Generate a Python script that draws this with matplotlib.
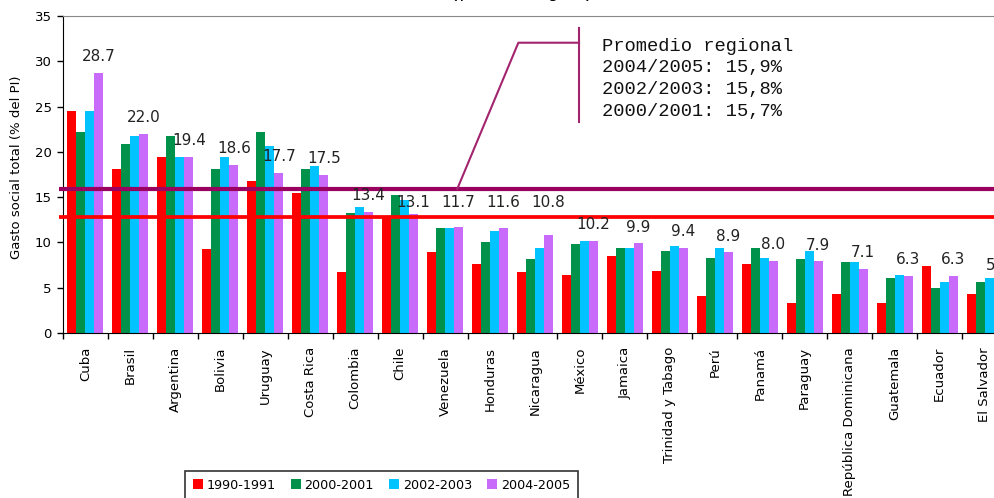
import matplotlib
matplotlib.use('Agg')
import matplotlib.pyplot as plt
import numpy as np

# datos del grafico
paises = ['Cuba', 'Brasil', 'Argentina', 'Bolivia', 'Uruguay', 'Costa Rica',
          'Colombia', 'Chile', 'Venezuela', 'Honduras', 'Nicaragua', 'México',
          'Jamaica', 'Trinidad y Tabago', 'Perú', 'Panamá', 'Paraguay',
          'República Dominicana', 'Guatemala', 'Ecuador', 'El Salvador']
g1990 = [24.5, 18.1, 19.4, 9.3, 16.8, 15.5, 6.7, 12.8, 8.9, 7.6, 6.7,
         6.4, 8.5, 6.8, 4.1, 7.6, 3.3, 4.3, 3.3, 7.4, 4.3]
g2000 = [22.2, 20.9, 21.8, 18.1, 22.2, 18.1, 13.3, 15.2, 11.6, 10.0, 8.2,
         9.8, 9.4, 9.0, 8.3, 9.4, 8.2, 7.8, 6.1, 5.0, 5.6]
g2002 = [24.5, 21.8, 19.4, 19.4, 20.7, 18.4, 13.9, 14.7, 11.6, 11.3, 9.4,
         10.2, 9.4, 9.6, 9.4, 8.3, 9.0, 7.8, 6.4, 5.6, 6.1]
g2004 = [28.7, 22.0, 19.4, 18.6, 17.7, 17.5, 13.4, 13.1, 11.7, 11.6, 10.8,
         10.2, 9.9, 9.4, 8.9, 8.0, 7.9, 7.1, 6.3, 6.3, 5.7]
periodos = ['1990-1991', '2000-2001', '2002-2003', '2004-2005']
prom_1990 = 12.8
prom_2004 = 15.9
nota = 'Promedio regional\n2004/2005: 15,9%\n2002/2003: 15,8%\n2000/2001: 15,7%'

colores = ['#FF0000', '#00914A', '#00C3FF', '#C86BFA']
mono = 'Liberation Mono'

fig = plt.figure(figsize=(9.95, 4.98), dpi=100)
ax = fig.add_axes([63 / 995, 165 / 498, 944 / 995, 317 / 498])

x = np.arange(len(paises))
w = 0.2
for k, serie in enumerate([g1990, g2000, g2002, g2004]):
    ax.bar(x + (k - 1.5) * w, serie, width=w, color=colores[k],
           label=periodos[k], zorder=2)

# etiquetas de 2004-2005
for i, v in enumerate(g2004):
    yl = v + 1.8
    if 12.5 < yl < 15.0:
        yl = 14.4
    ax.text(i + 0.3, yl, f'{v:.1f}', ha='center', va='center',
            fontsize=11, color='#222222', zorder=4)

# promedios regionales
ax.plot([-0.6, 21], [prom_2004, prom_2004], color='#990060', lw=3,
        clip_on=False, zorder=3, solid_capstyle='butt')
ax.plot([-0.6, 21], [prom_1990, prom_1990], color='#FF0000', lw=2.7,
        clip_on=False, zorder=3, solid_capstyle='butt')

# llamada
ax.plot([8.27, 9.63, 10.98], [prom_2004, 32.05, 32.05], color='#A3246E',
        lw=1.5, zorder=3)
ax.plot([10.98, 10.98], [33.64, 23.33], color='#A3246E', lw=1.5, zorder=3)
ax.text(11.49, 32.6, nota, ha='left', va='top', family=mono,
        fontsize=13.5, linespacing=1.36, color='#111111')

ax.set_xlim(-0.5, len(paises) - 0.5)
ax.set_ylim(0, 35)
ax.set_yticks(range(0, 36, 5))
ax.set_xticks(np.arange(len(paises) + 1) - 0.5)
ax.set_xticklabels([])
ax.set_xticks(x, minor=True)
ax.set_xticklabels(paises, minor=True, rotation=90, va='top', fontsize=9.5)
ax.tick_params(axis='x', which='major', direction='out', length=4, width=1)
ax.tick_params(axis='x', which='minor', length=0, pad=10)
ax.tick_params(axis='y', direction='out', length=4, width=1, labelsize=9.5,
               pad=4)

ax.spines['right'].set_visible(False)
ax.spines['top'].set_color('#888888')
ax.spines['left'].set_color('black')
ax.spines['bottom'].set_color('black')

ax.set_ylabel('Gasto social total (% del PI)', fontsize=9.5)
ax.yaxis.set_label_coords(-0.0424, 0.522)

fig.text(522 / 995, 1.006, '(porcentajes)', ha='center', va='baseline',
         family=mono, fontsize=13.5)

leg = fig.legend(loc='upper left', bbox_to_anchor=(185 / 995, 1 - 471 / 498),
                 ncol=4, fontsize=9.2, frameon=True, fancybox=False,
                 handlelength=0.8, handleheight=0.8, handletextpad=0.3,
                 columnspacing=1.15, borderpad=0.6, borderaxespad=0)
leg.get_frame().set_edgecolor('black')
leg.get_frame().set_linewidth(1.2)

fig.savefig('out.png', dpi=100)
